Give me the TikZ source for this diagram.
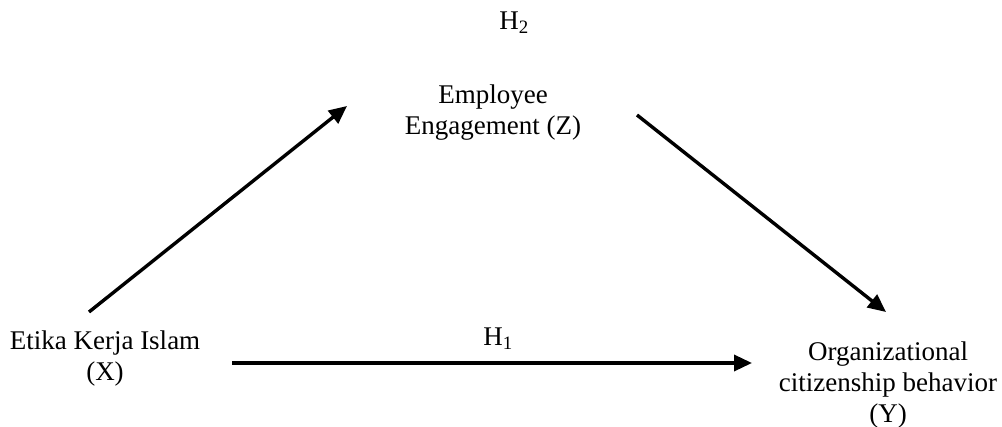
\documentclass[tikz,border=0pt]{standalone}
\usepackage{fontspec}
\setmainfont{Liberation Serif}
\usetikzlibrary{arrows.meta}
\begin{document}
\begin{tikzpicture}[x=1pt,y=-1pt,
  lbl/.style={inner sep=0pt, align=center, font=\fontsize{27}{31}\selectfont},
  conn/.style={line width=3.4pt, -{Triangle[length=18pt,width=16pt]}}]
\useasboundingbox (0,0) rectangle (1002,427);
\node[lbl] (X) at (105,359) {Etika Kerja Islam\\(X)};
\node[lbl] (Z) at (493,113) {Employee\\Engagement (Z)};
\node[lbl] (Y) at (888,385) {Organizational\\citizenship behavior\\(Y)};
\node[lbl, anchor=base] (H2) at (514,30) {H\textsubscript{2}};
\node[lbl, anchor=base] (H1) at (498,346) {H\textsubscript{1}};
\coordinate (xs) at (89,312);
\coordinate (zt) at (347,106);
\coordinate (zs) at (637,115);
\coordinate (yt) at (886,312);
\coordinate (hs) at (232,363);
\coordinate (ht) at (752,363);
\draw[conn] (xs) -- (zt);
\draw[conn] (zs) -- (yt);
\draw[conn] (hs) -- (ht);
\end{tikzpicture}
\end{document}
